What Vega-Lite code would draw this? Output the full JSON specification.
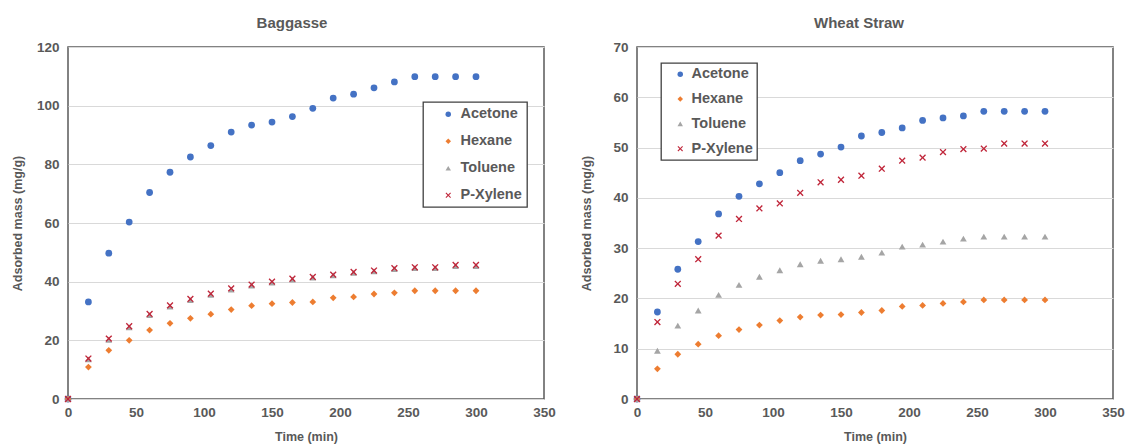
{
  "$schema": "https://vega.github.io/schema/vega-lite/v6.json",
  "background": "white",
  "padding": {"left": 10, "top": 15, "right": 5, "bottom": 5},
  "datasets": {
    "bag": [
      {"t": 0, "mass": 0, "solvent": "Acetone"},
      {"t": 15, "mass": 33.1, "solvent": "Acetone"},
      {"t": 30, "mass": 49.7, "solvent": "Acetone"},
      {"t": 45, "mass": 60.3, "solvent": "Acetone"},
      {"t": 60, "mass": 70.4, "solvent": "Acetone"},
      {"t": 75, "mass": 77.3, "solvent": "Acetone"},
      {"t": 90, "mass": 82.5, "solvent": "Acetone"},
      {"t": 105, "mass": 86.4, "solvent": "Acetone"},
      {"t": 120, "mass": 91.0, "solvent": "Acetone"},
      {"t": 135, "mass": 93.4, "solvent": "Acetone"},
      {"t": 150, "mass": 94.4, "solvent": "Acetone"},
      {"t": 165, "mass": 96.3, "solvent": "Acetone"},
      {"t": 180, "mass": 99.1, "solvent": "Acetone"},
      {"t": 195, "mass": 102.6, "solvent": "Acetone"},
      {"t": 210, "mass": 103.9, "solvent": "Acetone"},
      {"t": 225, "mass": 106.1, "solvent": "Acetone"},
      {"t": 240, "mass": 108.1, "solvent": "Acetone"},
      {"t": 255, "mass": 109.9, "solvent": "Acetone"},
      {"t": 270, "mass": 109.9, "solvent": "Acetone"},
      {"t": 285, "mass": 109.9, "solvent": "Acetone"},
      {"t": 300, "mass": 109.9, "solvent": "Acetone"},
      {"t": 0, "mass": 0, "solvent": "Hexane"},
      {"t": 15, "mass": 10.9, "solvent": "Hexane"},
      {"t": 30, "mass": 16.6, "solvent": "Hexane"},
      {"t": 45, "mass": 20.0, "solvent": "Hexane"},
      {"t": 60, "mass": 23.5, "solvent": "Hexane"},
      {"t": 75, "mass": 25.8, "solvent": "Hexane"},
      {"t": 90, "mass": 27.5, "solvent": "Hexane"},
      {"t": 105, "mass": 28.9, "solvent": "Hexane"},
      {"t": 120, "mass": 30.5, "solvent": "Hexane"},
      {"t": 135, "mass": 31.8, "solvent": "Hexane"},
      {"t": 150, "mass": 32.5, "solvent": "Hexane"},
      {"t": 165, "mass": 32.9, "solvent": "Hexane"},
      {"t": 180, "mass": 33.1, "solvent": "Hexane"},
      {"t": 195, "mass": 34.5, "solvent": "Hexane"},
      {"t": 210, "mass": 34.8, "solvent": "Hexane"},
      {"t": 225, "mass": 35.8, "solvent": "Hexane"},
      {"t": 240, "mass": 36.2, "solvent": "Hexane"},
      {"t": 255, "mass": 36.9, "solvent": "Hexane"},
      {"t": 270, "mass": 36.9, "solvent": "Hexane"},
      {"t": 285, "mass": 36.9, "solvent": "Hexane"},
      {"t": 300, "mass": 36.9, "solvent": "Hexane"},
      {"t": 0, "mass": 0, "solvent": "Toluene"},
      {"t": 15, "mass": 13.5, "solvent": "Toluene"},
      {"t": 30, "mass": 20.2, "solvent": "Toluene"},
      {"t": 45, "mass": 24.4, "solvent": "Toluene"},
      {"t": 60, "mass": 28.6, "solvent": "Toluene"},
      {"t": 75, "mass": 31.5, "solvent": "Toluene"},
      {"t": 90, "mass": 33.7, "solvent": "Toluene"},
      {"t": 105, "mass": 35.5, "solvent": "Toluene"},
      {"t": 120, "mass": 37.3, "solvent": "Toluene"},
      {"t": 135, "mass": 38.7, "solvent": "Toluene"},
      {"t": 150, "mass": 39.7, "solvent": "Toluene"},
      {"t": 165, "mass": 40.7, "solvent": "Toluene"},
      {"t": 180, "mass": 41.4, "solvent": "Toluene"},
      {"t": 195, "mass": 42.2, "solvent": "Toluene"},
      {"t": 210, "mass": 43.0, "solvent": "Toluene"},
      {"t": 225, "mass": 43.5, "solvent": "Toluene"},
      {"t": 240, "mass": 44.3, "solvent": "Toluene"},
      {"t": 255, "mass": 44.6, "solvent": "Toluene"},
      {"t": 270, "mass": 44.6, "solvent": "Toluene"},
      {"t": 285, "mass": 45.3, "solvent": "Toluene"},
      {"t": 300, "mass": 45.3, "solvent": "Toluene"},
      {"t": 0, "mass": 0, "solvent": "P-Xylene"},
      {"t": 15, "mass": 13.8, "solvent": "P-Xylene"},
      {"t": 30, "mass": 20.6, "solvent": "P-Xylene"},
      {"t": 45, "mass": 24.8, "solvent": "P-Xylene"},
      {"t": 60, "mass": 29.0, "solvent": "P-Xylene"},
      {"t": 75, "mass": 31.9, "solvent": "P-Xylene"},
      {"t": 90, "mass": 34.1, "solvent": "P-Xylene"},
      {"t": 105, "mass": 35.9, "solvent": "P-Xylene"},
      {"t": 120, "mass": 37.7, "solvent": "P-Xylene"},
      {"t": 135, "mass": 39.0, "solvent": "P-Xylene"},
      {"t": 150, "mass": 40.0, "solvent": "P-Xylene"},
      {"t": 165, "mass": 41.0, "solvent": "P-Xylene"},
      {"t": 180, "mass": 41.6, "solvent": "P-Xylene"},
      {"t": 195, "mass": 42.4, "solvent": "P-Xylene"},
      {"t": 210, "mass": 43.3, "solvent": "P-Xylene"},
      {"t": 225, "mass": 43.8, "solvent": "P-Xylene"},
      {"t": 240, "mass": 44.6, "solvent": "P-Xylene"},
      {"t": 255, "mass": 44.9, "solvent": "P-Xylene"},
      {"t": 270, "mass": 44.9, "solvent": "P-Xylene"},
      {"t": 285, "mass": 45.7, "solvent": "P-Xylene"},
      {"t": 300, "mass": 45.7, "solvent": "P-Xylene"}
    ],
    "wheat": [
      {"t": 0, "mass": 0, "solvent": "Acetone"},
      {"t": 15, "mass": 17.3, "solvent": "Acetone"},
      {"t": 30, "mass": 25.8, "solvent": "Acetone"},
      {"t": 45, "mass": 31.3, "solvent": "Acetone"},
      {"t": 60, "mass": 36.8, "solvent": "Acetone"},
      {"t": 75, "mass": 40.3, "solvent": "Acetone"},
      {"t": 90, "mass": 42.8, "solvent": "Acetone"},
      {"t": 105, "mass": 45.0, "solvent": "Acetone"},
      {"t": 120, "mass": 47.4, "solvent": "Acetone"},
      {"t": 135, "mass": 48.7, "solvent": "Acetone"},
      {"t": 150, "mass": 50.1, "solvent": "Acetone"},
      {"t": 165, "mass": 52.3, "solvent": "Acetone"},
      {"t": 180, "mass": 53.0, "solvent": "Acetone"},
      {"t": 195, "mass": 53.9, "solvent": "Acetone"},
      {"t": 210, "mass": 55.4, "solvent": "Acetone"},
      {"t": 225, "mass": 55.9, "solvent": "Acetone"},
      {"t": 240, "mass": 56.3, "solvent": "Acetone"},
      {"t": 255, "mass": 57.2, "solvent": "Acetone"},
      {"t": 270, "mass": 57.2, "solvent": "Acetone"},
      {"t": 285, "mass": 57.2, "solvent": "Acetone"},
      {"t": 300, "mass": 57.2, "solvent": "Acetone"},
      {"t": 0, "mass": 0, "solvent": "Hexane"},
      {"t": 15, "mass": 6.0, "solvent": "Hexane"},
      {"t": 30, "mass": 8.9, "solvent": "Hexane"},
      {"t": 45, "mass": 10.9, "solvent": "Hexane"},
      {"t": 60, "mass": 12.6, "solvent": "Hexane"},
      {"t": 75, "mass": 13.8, "solvent": "Hexane"},
      {"t": 90, "mass": 14.7, "solvent": "Hexane"},
      {"t": 105, "mass": 15.6, "solvent": "Hexane"},
      {"t": 120, "mass": 16.3, "solvent": "Hexane"},
      {"t": 135, "mass": 16.7, "solvent": "Hexane"},
      {"t": 150, "mass": 16.8, "solvent": "Hexane"},
      {"t": 165, "mass": 17.2, "solvent": "Hexane"},
      {"t": 180, "mass": 17.6, "solvent": "Hexane"},
      {"t": 195, "mass": 18.4, "solvent": "Hexane"},
      {"t": 210, "mass": 18.6, "solvent": "Hexane"},
      {"t": 225, "mass": 19.0, "solvent": "Hexane"},
      {"t": 240, "mass": 19.3, "solvent": "Hexane"},
      {"t": 255, "mass": 19.7, "solvent": "Hexane"},
      {"t": 270, "mass": 19.7, "solvent": "Hexane"},
      {"t": 285, "mass": 19.7, "solvent": "Hexane"},
      {"t": 300, "mass": 19.7, "solvent": "Hexane"},
      {"t": 0, "mass": 0, "solvent": "Toluene"},
      {"t": 15, "mass": 9.6, "solvent": "Toluene"},
      {"t": 30, "mass": 14.6, "solvent": "Toluene"},
      {"t": 45, "mass": 17.6, "solvent": "Toluene"},
      {"t": 60, "mass": 20.7, "solvent": "Toluene"},
      {"t": 75, "mass": 22.7, "solvent": "Toluene"},
      {"t": 90, "mass": 24.3, "solvent": "Toluene"},
      {"t": 105, "mass": 25.6, "solvent": "Toluene"},
      {"t": 120, "mass": 26.8, "solvent": "Toluene"},
      {"t": 135, "mass": 27.5, "solvent": "Toluene"},
      {"t": 150, "mass": 27.8, "solvent": "Toluene"},
      {"t": 165, "mass": 28.3, "solvent": "Toluene"},
      {"t": 180, "mass": 29.1, "solvent": "Toluene"},
      {"t": 195, "mass": 30.3, "solvent": "Toluene"},
      {"t": 210, "mass": 30.7, "solvent": "Toluene"},
      {"t": 225, "mass": 31.3, "solvent": "Toluene"},
      {"t": 240, "mass": 31.9, "solvent": "Toluene"},
      {"t": 255, "mass": 32.3, "solvent": "Toluene"},
      {"t": 270, "mass": 32.3, "solvent": "Toluene"},
      {"t": 285, "mass": 32.3, "solvent": "Toluene"},
      {"t": 300, "mass": 32.3, "solvent": "Toluene"},
      {"t": 0, "mass": 0, "solvent": "P-Xylene"},
      {"t": 15, "mass": 15.3, "solvent": "P-Xylene"},
      {"t": 30, "mass": 22.9, "solvent": "P-Xylene"},
      {"t": 45, "mass": 27.8, "solvent": "P-Xylene"},
      {"t": 60, "mass": 32.5, "solvent": "P-Xylene"},
      {"t": 75, "mass": 35.8, "solvent": "P-Xylene"},
      {"t": 90, "mass": 37.9, "solvent": "P-Xylene"},
      {"t": 105, "mass": 38.9, "solvent": "P-Xylene"},
      {"t": 120, "mass": 41.0, "solvent": "P-Xylene"},
      {"t": 135, "mass": 43.1, "solvent": "P-Xylene"},
      {"t": 150, "mass": 43.6, "solvent": "P-Xylene"},
      {"t": 165, "mass": 44.4, "solvent": "P-Xylene"},
      {"t": 180, "mass": 45.8, "solvent": "P-Xylene"},
      {"t": 195, "mass": 47.4, "solvent": "P-Xylene"},
      {"t": 210, "mass": 48.0, "solvent": "P-Xylene"},
      {"t": 225, "mass": 49.1, "solvent": "P-Xylene"},
      {"t": 240, "mass": 49.7, "solvent": "P-Xylene"},
      {"t": 255, "mass": 49.8, "solvent": "P-Xylene"},
      {"t": 270, "mass": 50.8, "solvent": "P-Xylene"},
      {"t": 285, "mass": 50.8, "solvent": "P-Xylene"},
      {"t": 300, "mass": 50.8, "solvent": "P-Xylene"}
    ]
  },
  "spacing": 93,
  "bounds": "flush",
  "resolve": {
    "scale": {"x": "independent", "y": "independent", "color": "independent", "shape": "independent"},
    "legend": {"color": "independent", "shape": "independent"}
  },
  "hconcat": [
    {
      "title": {"text": "Baggasse", "dx": -14},
      "width": 476,
      "height": 352,
      "data": {"name": "bag"},
      "mark": {"type": "point", "filled": true, "size": 46, "opacity": 1},
      "encoding": {
        "x": {"field": "t", "type": "quantitative", "scale": {"domain": [0, 350]},
              "axis": {"values": [0, 50, 100, 150, 200, 250, 300, 350], "title": "Time (min)"}},
        "y": {"field": "mass", "type": "quantitative", "scale": {"domain": [0, 120]},
              "axis": {"values": [0, 20, 40, 60, 80, 100, 120], "title": "Adsorbed mass (mg/g)"}},
        "color": {"field": "solvent", "type": "nominal",
          "scale": {"domain": ["Acetone", "Hexane", "Toluene", "P-Xylene"], "range": ["#4472C4", "#ED7D31", "#A5A5A5", "#C0263A"]},
          "legend": {"orient": "none", "legendX": 355, "legendY": 55, "title": null, "padding": 5, "rowPadding": 12, "symbolOffset": 13, "labelOffset": 5, "labelExpr": "datum.label + '\u00a0\u00a0\u00a0'"}},
        "shape": {"field": "solvent", "type": "nominal",
          "scale": {"domain": ["Acetone", "Hexane", "Toluene", "P-Xylene"], "range": ["circle", "diamond", "triangle-up", "M-1,-0.72L-0.72,-1L0,-0.28L0.72,-1L1,-0.72L0.28,0L1,0.72L0.72,1L0,0.28L-0.72,1L-1,0.72L-0.28,0Z"]},
          "legend": {"orient": "none", "legendX": 355, "legendY": 55, "title": null, "padding": 5, "rowPadding": 12, "symbolOffset": 13, "labelOffset": 5, "labelExpr": "datum.label + '\u00a0\u00a0\u00a0'"}}
      }
    },
    {
      "title": {"text": "Wheat Straw", "dx": -16},
      "width": 476,
      "height": 352,
      "data": {"name": "wheat"},
      "mark": {"type": "point", "filled": true, "size": 46, "opacity": 1},
      "encoding": {
        "x": {"field": "t", "type": "quantitative", "scale": {"domain": [0, 350]},
              "axis": {"values": [0, 50, 100, 150, 200, 250, 300, 350], "title": "Time (min)"}},
        "y": {"field": "mass", "type": "quantitative", "scale": {"domain": [0, 70]},
              "axis": {"values": [0, 10, 20, 30, 40, 50, 60, 70], "title": "Adsorbed mass (mg/g)"}},
        "color": {"field": "solvent", "type": "nominal",
          "scale": {"domain": ["Acetone", "Hexane", "Toluene", "P-Xylene"], "range": ["#4472C4", "#ED7D31", "#A5A5A5", "#C0263A"]},
          "legend": {"orient": "none", "legendX": 24, "legendY": 16, "title": null, "padding": 4, "rowPadding": 9.8, "symbolOffset": 8, "labelOffset": 4, "labelExpr": "datum.label + '\u00a0\u00a0'"}},
        "shape": {"field": "solvent", "type": "nominal",
          "scale": {"domain": ["Acetone", "Hexane", "Toluene", "P-Xylene"], "range": ["circle", "diamond", "triangle-up", "M-1,-0.72L-0.72,-1L0,-0.28L0.72,-1L1,-0.72L0.28,0L1,0.72L0.72,1L0,0.28L-0.72,1L-1,0.72L-0.28,0Z"]},
          "legend": {"orient": "none", "legendX": 24, "legendY": 16, "title": null, "padding": 4, "rowPadding": 9.8, "symbolOffset": 8, "labelOffset": 4, "labelExpr": "datum.label + '\u00a0\u00a0'"}}
      }
    }
  ],
  "config": {
    "font": "Liberation Sans",
    "view": {"stroke": "#595959", "strokeWidth": 1.5},
    "title": {"fontSize": 15, "fontWeight": "bold", "color": "#595959", "font": "Liberation Sans", "offset": 9, "anchor": "middle"},
    "axis": {
      "domain": false, "ticks": false,
      "labelFont": "Liberation Sans", "labelFontSize": 13.5, "labelFontWeight": "bold", "labelColor": "#595959",
      "titleFont": "Liberation Sans", "titleFontSize": 12.5, "titleFontWeight": "bold", "titleColor": "#595959",
      "labelFlush": false, "labelOverlap": false,
      "gridColor": "#D9D9D9", "gridWidth": 1
    },
    "axisX": {"grid": false, "labelPadding": 6, "titlePadding": 12},
    "axisY": {"grid": true, "labelPadding": 9, "titlePadding": 6, "minExtent": 38, "maxExtent": 38},
    "legend": {
      "labelFont": "Liberation Sans", "labelFontSize": 14.5, "labelFontWeight": "bold", "labelColor": "#595959",
      "strokeColor": "#404040", "strokeWidth": 1.3, "fillColor": "white", "symbolSize": 30, "symbolStrokeWidth": 0
    }
  }
}
